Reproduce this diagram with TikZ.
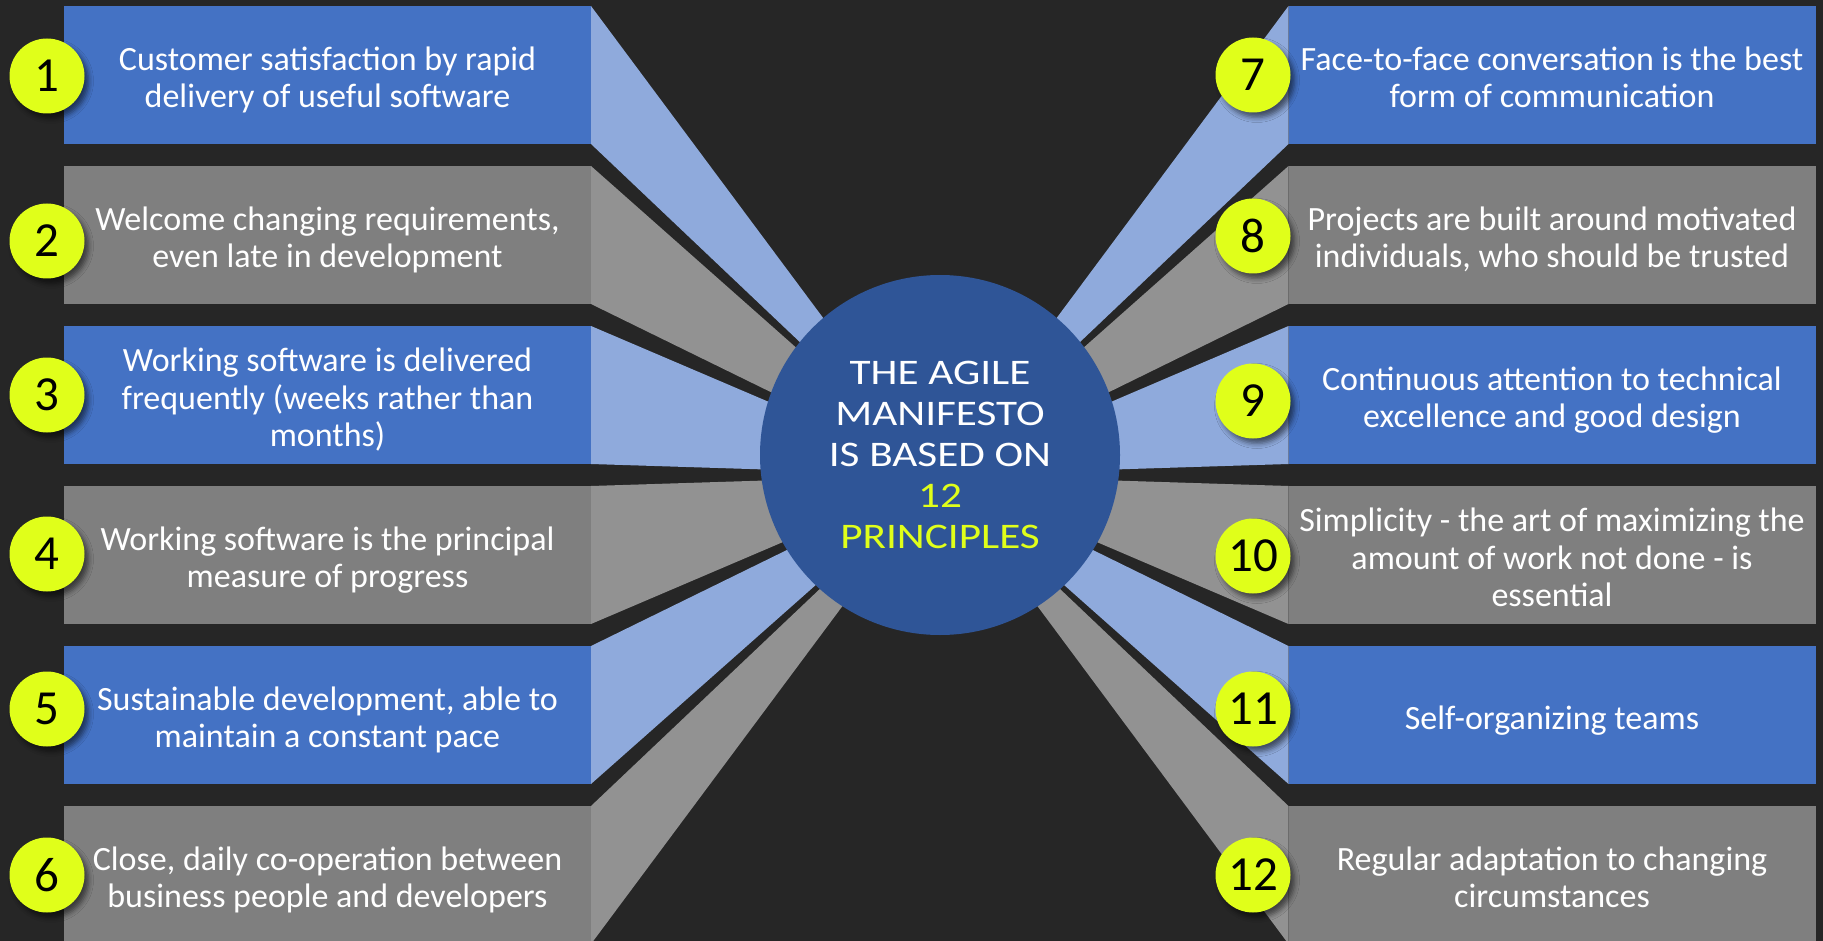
\documentclass[tikz,border=0pt]{standalone}
\usepackage{fontspec}
\setmainfont{Carlito}
\newfontfamily\widefont[FakeStretch=1.2]{Carlito}
\usetikzlibrary{positioning,shadows.blur}

\definecolor{bgdark}{HTML}{262626}
\definecolor{boxblue}{HTML}{4472C4}
\definecolor{boxgray}{HTML}{7F7F7F}
\definecolor{rayblue}{HTML}{8FAADC}
\definecolor{raygray}{HTML}{929292}
\definecolor{corefill}{HTML}{2F5597}
\definecolor{badgeyellow}{HTML}{E0FF1A}

% line struts, so that every box is centred on its full lines
\newcommand{\leadstrut}{\rule{0pt}{36pt}}
\newcommand{\tailstrut}{\rule[-8pt]{0pt}{8pt}}

\tikzset{
    leaf/.style={rectangle, minimum width=527pt, minimum height=138pt,
        inner sep=0pt, outer sep=0pt, align=center, text=white,
        font=\fontsize{34}{37.5}\selectfont},
    leafblue/.style={leaf, fill=boxblue},
    leafgray/.style={leaf, fill=boxgray},
    badge/.style={circle, fill=badgeyellow, minimum size=75pt, inner sep=0pt,
        text=black, font=\fontsize{49}{49}\selectfont,
        blur shadow={shadow xshift=4pt, shadow yshift=-5pt,
            shadow blur radius=5pt, shadow opacity=55}},
}

\begin{document}
\begin{tikzpicture}[x=1pt, y=-1pt]
    \useasboundingbox (0,0) rectangle (1823,941);
    \clip (0,0) rectangle (1823,941);
    \fill[bgdark] (0,0) rectangle (1823,941);

    % left column of principles
    \node[leafblue] (p1) at (327.5,75) {\leadstrut Customer satisfaction by rapid\\delivery of useful software\tailstrut};
    \node[leafgray, below=22pt of p1] (p2) {\leadstrut Welcome changing requirements,\\even late in development\tailstrut};
    \node[leafblue, below=22pt of p2] (p3) {\leadstrut Working software is delivered\\frequently (weeks rather than\\months)\tailstrut};
    \node[leafgray, below=22pt of p3] (p4) {\leadstrut Working software is the principal\\measure of progress\tailstrut};
    \node[leafblue, below=22pt of p4] (p5) {\leadstrut Sustainable development, able to\\maintain a constant pace\tailstrut};
    \node[leafgray, below=22pt of p5] (p6) {\leadstrut Close, daily co-operation between\\business people and developers\tailstrut};

    % right column of principles
    \node[leafblue] (p7) at (1552,75) {\leadstrut Face-to-face conversation is the best\\form of communication\tailstrut};
    \node[leafgray, below=22pt of p7] (p8) {\leadstrut Projects are built around motivated\\individuals, who should be trusted\tailstrut};
    \node[leafblue, below=22pt of p8] (p9) {\leadstrut Continuous attention to technical\\excellence and good design\tailstrut};
    \node[leafgray, below=22pt of p9] (p10) {\leadstrut Simplicity - the art of maximizing the\\amount of work not done - is\\essential\tailstrut};
    \node[leafblue, below=22pt of p10] (p11) {\leadstrut Self-organizing teams\tailstrut};
    \node[leafgray, below=22pt of p11] (p12) {\leadstrut Regular adaptation to changing\\circumstances\tailstrut};

    % rays towards the hub
    \coordinate (hub) at (940,475);
    \foreach \i/\c in {1/rayblue,2/raygray,3/rayblue,4/raygray,5/rayblue,6/raygray}
        \fill[\c] (p\i.north east) -- (p\i.south east) -- (hub) -- cycle;
    \foreach \i/\c in {7/rayblue,8/raygray,9/rayblue,10/raygray,11/rayblue,12/raygray}
        \fill[\c] (p\i.north west) -- (p\i.south west) -- (hub) -- cycle;

    % centre
    \node[circle, fill=corefill, minimum size=360pt, inner sep=0pt, align=center,
        text=white, font=\widefont\fontsize{36}{41}\selectfont] (core) at (940,455)
        {THE AGILE\\MANIFESTO\\IS BASED ON\\\textcolor{badgeyellow}{12}\\\textcolor{badgeyellow}{PRINCIPLES}};

    % numbers
    \node[badge] (n1) at (47,76) {1};
    \node[badge] (n2) at (47,241) {2};
    \node[badge] (n3) at (47,395) {3};
    \node[badge] (n4) at (47,554) {4};
    \node[badge] (n5) at (47,709) {5};
    \node[badge] (n6) at (47,875) {6};
    \node[badge] (n7) at (1253,75) {7};
    \node[badge] (n8) at (1253,236) {8};
    \node[badge] (n9) at (1253,401) {9};
    \node[badge] (n10) at (1253,556) {10};
    \node[badge] (n11) at (1253,709) {11};
    \node[badge] (n12) at (1253,875) {12};
\end{tikzpicture}
\end{document}
